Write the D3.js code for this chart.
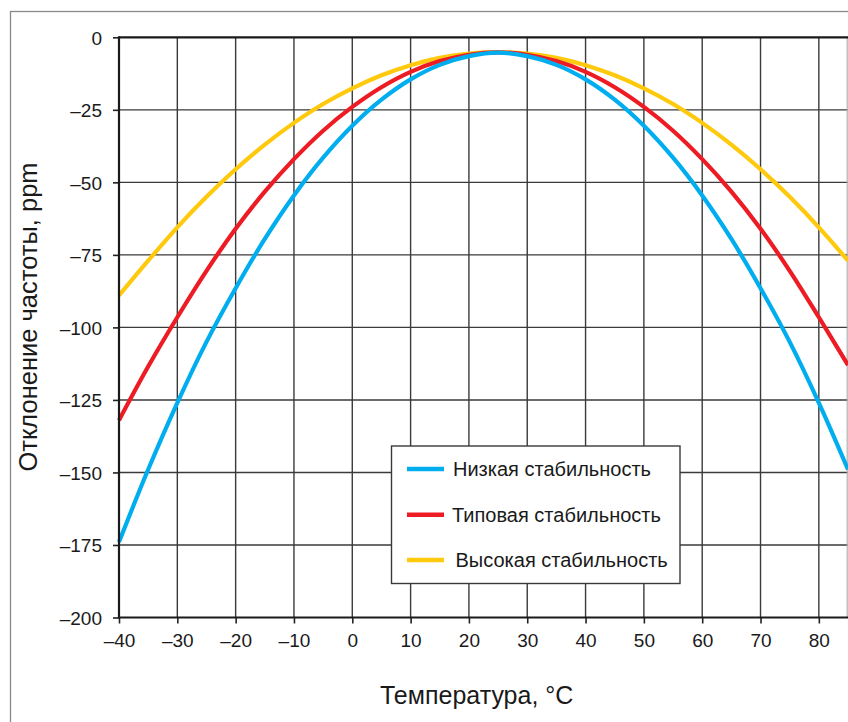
<!DOCTYPE html>
<html>
<head>
<meta charset="utf-8">
<script src="https://cdn.jsdelivr.net/npm/d3@7"></script>
<style>
  html, body { margin: 0; padding: 0; background: #fff; }
  svg { display: block; font-family: "Liberation Sans", Arial, Helvetica, sans-serif; }
</style>
</head>
<body>
<div id="chart"></div>
<script>
// temperature, degC
var temps = [ -40, -35, -30, -25, -20, -15, -10, -5, 0, 5, 10, 15, 20, 25,
              30, 35, 40, 45, 50, 55, 60, 65, 70, 75, 80, 85 ];
// frequency deviation, ppm
var lowStab = [ -174, -149, -126, -105, -86.5, -69.5, -54.5, -41.5, -30.5, -21.5, -14.5, -9.5, -6.5, -5.3,
                -6.5, -9.5, -14.5, -21.5, -30.5, -41.5, -54.5, -69.5, -86.5, -105, -126, -149 ];
var typStab = [ -132, -113.5, -96.5, -80.5, -66, -53.2, -42, -32.2, -24, -17.2, -11.9, -8.2, -6, -5.2,
                -6, -8.2, -11.9, -17.2, -24, -32.2, -42, -53.2, -66, -80.5, -96.5, -113 ];
var highStab = [ -89, -77, -65.5, -55, -45.5, -37, -29.5, -23, -17.6, -13.1, -9.6, -7.1, -5.6, -5.1,
                 -5.6, -7.1, -9.6, -13.1, -17.6, -23, -29.5, -37, -45.5, -55, -65.5, -77 ];

var xTicks = [ -40, -30, -20, -10, 0, 10, 20, 30, 40, 50, 60, 70, 80 ];
var yTicks = [ 0, -25, -50, -75, -100, -125, -150, -175, -200 ];
var seriesNames = [ "Низкая стабильность", "Типовая стабильность", "Высокая стабильность" ];
var seriesColors = [ "#00aeef", "#ed1c24", "#ffc90e" ];

var freqchart = {};
freqchart.Chart = function( parent ) {
  this._width = 848;
  this._height = 722;
  this._svg = d3.select( parent ).append( "svg" )
    .attr( "width", this._width ).attr( "height", this._height );
  this._x = d3.scaleLinear().domain( [ -40, 85 ] ).range( [ 119, 848 ] );
  this._y = d3.scaleLinear().domain( [ -200, 0 ] ).range( [ 617.5, 37.3 ] );
  this.drawFrame();
  this.drawGrid();
  this.drawLines();
  this.drawAxes();
  this.drawLegend();
  this.drawTitles();
};

freqchart.Chart.prototype = {

  fmt: function( v ) {
    return v < 0 ? "\u2013" + Math.abs( v ) : String( v );
  },

  drawFrame: function() {
    this._svg.append( "rect" )
      .attr( "x", 10.5 ).attr( "y", 11.5 )
      .attr( "width", 900 ).attr( "height", 800 )
      .attr( "fill", "none" ).attr( "stroke", "#8a8a8a" ).attr( "stroke-width", 1.3 );
  },

  drawGrid: function() {
    var x = this._x, y = this._y;
    var grid = this._svg.append( "g" ).attr( "class", "grid" );
    grid.selectAll( "line.v" ).data( xTicks.slice( 1 ) ).enter().append( "line" )
      .attr( "class", "v" )
      .attr( "x1", function( d ) { return x( d ); } ).attr( "x2", function( d ) { return x( d ); } )
      .attr( "y1", y( 0 ) ).attr( "y2", y( -200 ) )
      .attr( "stroke", "#3a3a3a" ).attr( "stroke-width", 1.4 );
    grid.selectAll( "line.h" ).data( yTicks.slice( 1, -1 ) ).enter().append( "line" )
      .attr( "class", "h" )
      .attr( "x1", x( -40 ) ).attr( "x2", x( 85 ) )
      .attr( "y1", function( d ) { return y( d ); } ).attr( "y2", function( d ) { return y( d ); } )
      .attr( "stroke", "#3a3a3a" ).attr( "stroke-width", 1.4 );
    // right edge of plot
    grid.append( "line" )
      .attr( "x1", 847.2 ).attr( "x2", 847.2 )
      .attr( "y1", y( 0 ) ).attr( "y2", y( -200 ) )
      .attr( "stroke", "#b0b0b0" ).attr( "stroke-width", 1.2 );
  },

  drawLines: function() {
    var x = this._x, y = this._y;
    var all = [ lowStab, typStab, highStab ];
    var line = d3.line()
      .x( function( d, i ) { return x( temps[ i ] ); } )
      .y( function( d ) { return y( d ); } )
      .curve( d3.curveCatmullRom.alpha( 0.5 ) );
    // yellow first so the others sit on top like in the original
    [ 2, 1, 0 ].forEach( function( k ) {
      this._svg.append( "path" )
        .attr( "d", line( all[ k ] ) )
        .attr( "fill", "none" )
        .attr( "stroke", seriesColors[ k ] )
        .attr( "stroke-width", 4.2 );
    }, this );
  },

  drawAxes: function() {
    var x = this._x, y = this._y, that = this;
    var yAxis = d3.axisLeft( y ).tickValues( yTicks ).tickSize( 6 ).tickPadding( 11 )
      .tickFormat( function( d ) { return that.fmt( d ); } );
    var xAxis = d3.axisBottom( x ).tickValues( xTicks ).tickSize( 6 ).tickPadding( 10 )
      .tickFormat( function( d ) { return that.fmt( d ); } );

    var gy = this._svg.append( "g" ).attr( "transform", "translate(" + x( -40 ) + ",0)" ).call( yAxis );
    var gx = this._svg.append( "g" ).attr( "transform", "translate(0," + y( -200 ) + ")" ).call( xAxis );
    [ gy, gx ].forEach( function( g ) {
      g.select( ".domain" ).remove();
      g.selectAll( ".tick line" ).attr( "stroke", "#222" ).attr( "stroke-width", 1.6 );
      g.selectAll( ".tick text" ).attr( "fill", "#1a1a1a" )
        .style( "font-size", "19px" ).style( "font-family", "'Liberation Sans', Arial, sans-serif" );
    } );
    gy.selectAll( ".tick text" ).attr( "dy", "0.36em" );

    // axis lines: left, bottom, top
    var frame = this._svg.append( "g" );
    frame.append( "line" ).attr( "x1", x( -40 ) ).attr( "x2", x( -40 ) )
      .attr( "y1", y( 0 ) - 1 ).attr( "y2", y( -200 ) + 1 );
    frame.append( "line" ).attr( "x1", x( -40 ) ).attr( "x2", 848 )
      .attr( "y1", y( -200 ) ).attr( "y2", y( -200 ) );
    frame.append( "line" ).attr( "x1", x( -40 ) ).attr( "x2", 848 )
      .attr( "y1", y( 0 ) ).attr( "y2", y( 0 ) );
    frame.selectAll( "line" ).attr( "stroke", "#1a1a1a" ).attr( "stroke-width", 2.2 );
  },

  drawLegend: function() {
    var lg = this._svg.append( "g" ).attr( "class", "legend" );
    lg.append( "rect" )
      .attr( "x", 391.5 ).attr( "y", 446 )
      .attr( "width", 288.5 ).attr( "height", 137.5 )
      .attr( "fill", "#fff" ).attr( "stroke", "#3a3a3a" ).attr( "stroke-width", 1.4 );
    var rowY = [ 469, 514.7, 560 ];
    var textX = [ 453, 452, 455.5 ];
    var rows = lg.selectAll( "g.row" ).data( seriesNames ).enter().append( "g" ).attr( "class", "row" );
    rows.append( "line" )
      .attr( "x1", 407 ).attr( "x2", 444 )
      .attr( "y1", function( d, i ) { return rowY[ i ]; } )
      .attr( "y2", function( d, i ) { return rowY[ i ]; } )
      .attr( "stroke", function( d, i ) { return seriesColors[ i ]; } )
      .attr( "stroke-width", 4.5 );
    rows.append( "text" )
      .attr( "x", function( d, i ) { return textX[ i ]; } )
      .attr( "y", function( d, i ) { return rowY[ i ] + 6.8; } )
      .attr( "fill", "#1a1a1a" )
      .style( "font-size", "20px" )
      .text( function( d ) { return d; } );
  },

  drawTitles: function() {
    this._svg.append( "text" )
      .attr( "x", 380 ).attr( "y", 704 )
      .attr( "fill", "#1a1a1a" ).style( "font-size", "25px" )
      .text( "Температура, °С" );
    this._svg.append( "text" )
      .attr( "transform", "translate(37,317) rotate(-90)" )
      .attr( "text-anchor", "middle" )
      .attr( "fill", "#1a1a1a" ).style( "font-size", "25.5px" )
      .text( "Отклонение частоты, ppm" );
  }

};

new freqchart.Chart( document.getElementById( "chart" ) );
</script>
</body>
</html>
